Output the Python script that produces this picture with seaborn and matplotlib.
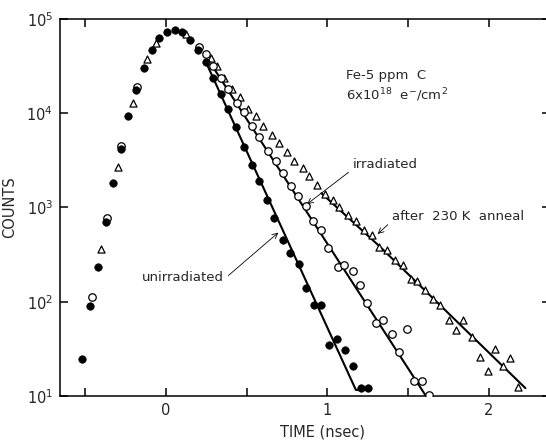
import numpy as np
import matplotlib
matplotlib.use("Agg")
import matplotlib.pyplot as plt
import seaborn as sns
from matplotlib.ticker import FixedLocator, NullLocator, LogFormatterMathtext

# --- datos ---
unirr_t = [-0.518, -0.472, -0.421, -0.373, -0.326, -0.281, -0.233, -0.186, -0.136, -0.087,
           -0.041, 0.006, 0.054, 0.101, 0.149, 0.196, 0.246, 0.291, 0.339, 0.386,
           0.433, 0.481, 0.531, 0.578, 0.623, 0.671, 0.723, 0.770, 0.822, 0.869,
           0.917, 0.960, 1.011, 1.060, 1.108, 1.160, 1.206, 1.251]
unirr_c = [24.5, 91, 234, 700, 1830, 4170, 9300, 17700, 30400, 46800,
           62300, 72500, 75700, 72500, 60300, 46800, 34900, 23500, 16200, 11000,
           7080, 4420, 2850, 1900, 1215, 775, 457, 330, 254, 141,
           92, 92, 34.7, 40.7, 30.5, 21, 12.3, 12.3]

irr_t = [-0.456, -0.367, -0.281, -0.181, 0.202, 0.246, 0.293, 0.341, 0.386, 0.438,
         0.485, 0.533, 0.576, 0.634, 0.679, 0.726, 0.774, 0.819, 0.865, 0.912,
         0.960, 1.005, 1.063, 1.104, 1.160, 1.201, 1.246, 1.298, 1.345, 1.398,
         1.443, 1.490, 1.537, 1.587, 1.630]
irr_c = [111, 778, 4500, 19000, 50800, 42100, 31600, 23500, 18300, 13000,
         10200, 7360, 5550, 4010, 3140, 2330, 1710, 1320, 1030, 718,
         581, 372, 231, 244, 210, 150, 98, 60, 64, 46,
         29.6, 51, 14.5, 14.5, 10.3]

anneal_t = [-0.400, -0.299, -0.206, -0.116, -0.064, 0.124, 0.277, 0.314, 0.361, 0.411,
            0.458, 0.506, 0.557, 0.603, 0.654, 0.702, 0.747, 0.794, 0.850, 0.885,
            0.937, 0.985, 1.032, 1.073, 1.125, 1.177, 1.226, 1.274, 1.319, 1.367,
            1.418, 1.466, 1.515, 1.552, 1.604, 1.655, 1.697, 1.752, 1.796, 1.841,
            1.893, 1.944, 1.992, 2.037, 2.084, 2.130, 2.178]
anneal_c = [365, 2670, 13000, 37300, 55100, 69700, 38900, 31600, 23500, 18300,
            14700, 11200, 9400, 7250, 5870, 4830, 3910, 3150, 2610, 2180,
            1740, 1400, 1190, 1010, 837, 711, 571, 514, 381, 351,
            275, 244, 173, 165, 133, 108, 92, 64, 50, 64,
            42, 25.8, 18.5, 31.6, 21, 25, 12.6]

# curvas ajustadas (lineas continuas)
unirr_fit_t = [0.246, 1.176, 1.215]
unirr_fit_c = [35300, 11.6, 11.6]
irr_fit_t = [0.283, 1.610]
irr_fit_c = [32500, 10.0]
anneal_fit_t = [0.963, 1.325, 2.226]
anneal_fit_c = [1416, 384, 12.1]

sns.set_theme(style="ticks")
plt.rcParams['font.family'] = ['DejaVu Sans']
plt.rcParams['mathtext.default'] = 'regular'

fig = plt.figure(figsize=(5.46, 4.40), dpi=100)
# el marco derecho queda fuera de la imagen, como en el original
ax = fig.add_axes([60 / 546, 44 / 440, 490 / 546, 377 / 440])

# lineas
for t, c in [(unirr_fit_t, unirr_fit_c), (irr_fit_t, irr_fit_c), (anneal_fit_t, anneal_fit_c)]:
    sns.lineplot(x=t, y=c, ax=ax, color='black', lw=1.5, sort=False,
                 estimator=None, zorder=2)

# puntos
sns.scatterplot(x=anneal_t, y=anneal_c, ax=ax, marker='^', s=26, facecolor='white',
                edgecolor='black', linewidth=0.9, zorder=3)
sns.scatterplot(x=irr_t, y=irr_c, ax=ax, marker='o', s=29, facecolor='white',
                edgecolor='black', linewidth=0.9, zorder=4)
sns.scatterplot(x=unirr_t, y=unirr_c, ax=ax, marker='o', s=29, color='black',
                edgecolor='black', linewidth=0.5, zorder=5)

ax.set_yscale('log')
ax.set_xlim(-0.656, 2.378)
ax.set_ylim(10, 1e5)

ax.xaxis.set_major_locator(FixedLocator([0, 1, 2]))
ax.xaxis.set_minor_locator(FixedLocator([-0.5, 0.5, 1.5]))
ax.yaxis.set_major_locator(FixedLocator([10, 100, 1000, 10000, 100000]))
ax.yaxis.set_major_formatter(LogFormatterMathtext())
ax.yaxis.set_minor_locator(NullLocator())

ax.tick_params(which='both', direction='in', top=True, right=True,
               length=5.5, width=1.1, color='black', labelsize=10.5, pad=5)
for s in ax.spines.values():
    s.set_linewidth(1.1)
    s.set_color('black')

ax.set_xlabel('TIME (nsec)', fontsize=10.5)
ax.set_ylabel('COUNTS', fontsize=10.5)
ax.xaxis.set_label_coords(0.535, -0.075)
ax.yaxis.set_label_coords(-0.088, 0.5)

# textos
ax.text(1.115, 25450, 'Fe-5 ppm  C', fontsize=9.5, va='center', ha='left')
ax.text(1.115, 15630, r'6x10$^{18}$  e$^{-}$/cm$^{2}$', fontsize=9.5, va='center', ha='left')

arrow = dict(arrowstyle='->', lw=0.6, color='black', shrinkA=1, shrinkB=1)
ax.annotate('irradiated', xy=(0.867, 1064), xytext=(1.158, 2825), fontsize=9.5,
            ha='left', va='center', arrowprops=dict(arrow, relpos=(0, 0.2)))
ax.annotate('after  230 K  anneal', xy=(1.305, 511), xytext=(1.40, 798), fontsize=9.5,
            ha='left', va='center', arrowprops=dict(arrow, relpos=(0, 0.2)))
ax.annotate('unirradiated', xy=(0.702, 553), xytext=(0.36, 179), fontsize=9.5,
            ha='right', va='center', arrowprops=dict(arrow, relpos=(1, 0.4)))

fig.savefig('out.png', dpi=100, facecolor='white')
